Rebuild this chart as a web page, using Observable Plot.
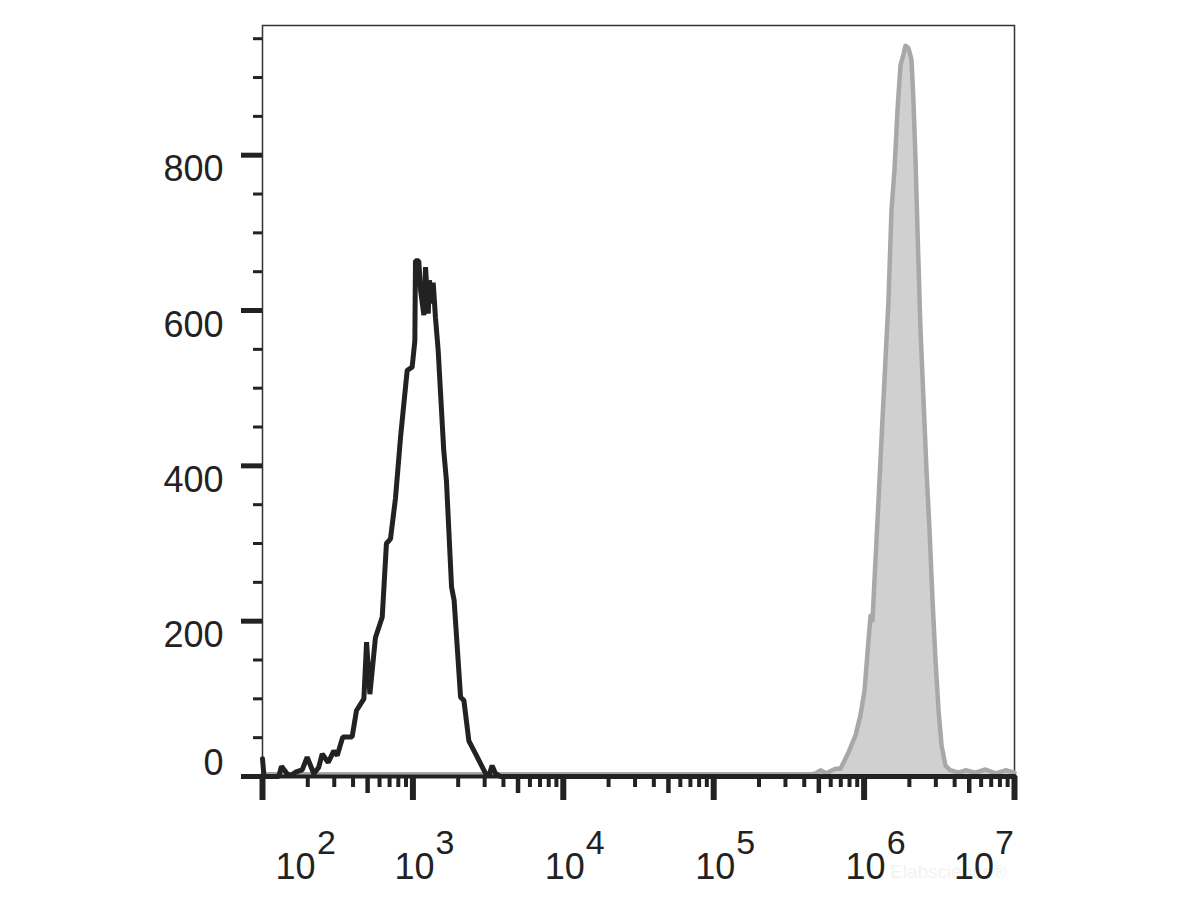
<!DOCTYPE html>
<html><head><meta charset="utf-8">
<script src="https://cdn.jsdelivr.net/npm/d3@7"></script>
<script src="https://cdn.jsdelivr.net/npm/@observablehq/plot@0.6"></script>
<style>html,body{margin:0;padding:0;background:#fff;} svg{display:block}</style>
</head><body><div id="chart"></div>
<script>
// Black (control) histogram: log10 intensity and counts
const blackLog = [2.000, 2.010, 2.108, 2.126, 2.164, 2.186, 2.219, 2.264, 2.297, 2.341,
                  2.374, 2.397, 2.437, 2.474, 2.497, 2.534, 2.596, 2.625, 2.674, 2.692,
                  2.714, 2.751, 2.796, 2.824, 2.851, 2.884, 2.918, 2.962, 2.995, 3.013,
                  3.017, 3.039, 3.051, 3.073, 3.084, 3.102, 3.110, 3.128, 3.135, 3.150,
                  3.168, 3.205, 3.223, 3.257, 3.274, 3.317, 3.339, 3.372, 3.417, 3.483,
                  3.505, 3.527, 3.549, 3.582, 7.000];
const blackCount = [23, 0, 0, 13, 3.5, 1.3, 5.5, 8.6, 25, 3.5,
                    12, 29, 18, 33, 27, 51, 51, 85, 100, 173,
                    106, 179, 205, 300, 306, 358, 437, 523, 527, 561,
                    664, 664, 626, 594, 656, 596, 639, 609, 636, 591,
                    549, 420, 381, 244, 227, 102, 98, 46, 29, 4,
                    1, 14, 4, 0, 0];

// Grey (stained) histogram
const greyLog = [2.000, 5.650, 5.677, 5.710, 5.750, 5.777, 5.810, 5.843, 5.896, 5.943,
                 5.976, 6.003, 6.029, 6.043, 6.056, 6.069, 6.096, 6.122, 6.142, 6.162,
                 6.182, 6.202, 6.222, 6.242, 6.262, 6.275, 6.295, 6.315, 6.328, 6.342,
                 6.355, 6.375, 6.395, 6.415, 6.435, 6.455, 6.475, 6.495, 6.515, 6.541,
                 6.574, 6.628, 6.674, 6.741, 6.807, 6.874, 6.941, 7.000];
const greyCount = [3, 3, 4, 8, 4, 7, 10, 10, 31, 53,
                   79, 111, 175, 207, 201, 253, 356, 459, 536, 613,
                   729, 781, 858, 916, 930, 941, 938, 923, 871, 794,
                   704, 575, 485, 394, 317, 227, 149, 85, 40, 14,
                   8, 5, 8, 5, 9, 4, 8, 5];

const decadeExponents = [2, 3, 4, 5, 6, 7];
const xMediumMultipliers = [5];
const xMinorMultipliers = [2, 3, 4, 6, 7, 8, 9];
const yMajorTicks = [0, 200, 400, 600, 800];
const yMinorTicks = [50, 100, 150, 250, 300, 350, 450, 500, 550, 650, 700, 750, 850, 900, 950];
const watermark = "Elabscience®";

const black = blackLog.map((l, i) => ({x: 10 ** l, y: blackCount[i]}));
const grey = greyLog.map((l, i) => ({x: 10 ** l, y: greyCount[i]}));
const xMajor = decadeExponents.map(e => 10 ** e);
const lowDecades = decadeExponents.slice(0, -1);
const xMedium = lowDecades.flatMap(e => xMediumMultipliers.map(m => m * 10 ** e));
const xMinor = lowDecades.flatMap(e => xMinorMultipliers.map(m => m * 10 ** e));

const ink = "#222";
const firstExp = decadeExponents.slice(0, 1);
const midExp = decadeExponents.slice(1, -1);
const lastExp = decadeExponents.slice(-1);

function decadeLabels(data, dxBase, dxExp) {
  return [
    Plot.text(data, {x: e => 10 ** e, text: () => "10", frameAnchor: "bottom", lineAnchor: "bottom",
      dy: 102, dx: dxBase, fontSize: 36, fill: ink}),
    Plot.text(data, {x: e => 10 ** e, text: e => String(e), frameAnchor: "bottom", lineAnchor: "bottom",
      dy: 77, dx: dxExp, fontSize: 34, fill: ink})
  ];
}

const chart = Plot.plot({
  width: 1200,
  height: 900,
  marginLeft: 262,
  marginRight: 186,
  marginTop: 25,
  marginBottom: 124,
  style: {fontFamily: "'Liberation Sans', Arial, sans-serif", background: "#fff"},
  x: {type: "log", domain: [1e2, 1e7], axis: null},
  y: {domain: [0, 967], axis: null},
  marks: [
    // watermark (very faint, behind everything)
    Plot.text([watermark], {text: d => d, frameAnchor: "bottom-right", textAnchor: "end", lineAnchor: "bottom",
      dx: -8, dy: 101, fontSize: 19, fill: "#f3f3f3"}),
    Plot.frame({stroke: "#333", strokeWidth: 1.5}),
    Plot.areaY(grey, {x: "x", y: "y", fill: "#d0d0d0"}),
    Plot.lineY(grey, {x: "x", y: "y", stroke: "#a8a8a8", strokeWidth: 4.5}),
    Plot.lineY(black, {x: "x", y: "y", stroke: ink, strokeWidth: 5, strokeLinejoin: "miter"}),
    Plot.ruleY([0], {stroke: ink, strokeWidth: 4}),
    // x ticks
    Plot.axisX(xMajor, {tickSize: 24, strokeWidth: 6, stroke: ink, tickFormat: () => "", label: null}),
    Plot.axisX(xMedium, {tickSize: 17, strokeWidth: 4.5, stroke: ink, tickFormat: () => "", label: null}),
    Plot.axisX(xMinor, {tickSize: 11, strokeWidth: 4, stroke: ink, tickFormat: () => "", label: null}),
    // y ticks
    Plot.axisY(yMajorTicks, {tickSize: 21, strokeWidth: 5, stroke: ink, tickFormat: () => "", label: null}),
    Plot.axisY(yMinorTicks, {tickSize: 9, strokeWidth: 3, stroke: ink, tickFormat: () => "", label: null}),
    // y labels
    Plot.text(yMajorTicks.filter(v => v > 0), {y: d => d, text: d => String(d), frameAnchor: "left",
      textAnchor: "end", lineAnchor: "bottom", dx: -39, dy: 26, fontSize: 36, fill: ink}),
    Plot.text(yMajorTicks.filter(v => v === 0), {y: d => d, text: d => String(d), frameAnchor: "left",
      textAnchor: "end", lineAnchor: "bottom", dx: -39, dy: -2, fontSize: 36, fill: ink}),
    // x labels
    ...decadeLabels(firstExp, 33, 64),
    ...decadeLabels(midExp, 1.5, 32),
    ...decadeLabels(lastExp, -40.5, -10)
  ]
});
document.getElementById("chart").appendChild(chart);
</script>
</body></html>
